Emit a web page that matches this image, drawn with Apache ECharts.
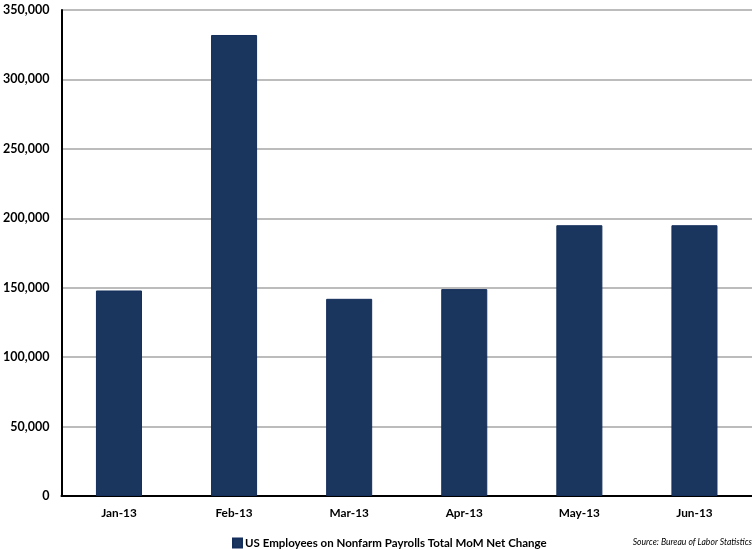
<!DOCTYPE html>
<html><head><meta charset="utf-8">
<script src="https://cdn.jsdelivr.net/npm/echarts@6/dist/echarts.min.js"></script>
<style>html,body{margin:0;padding:0;background:#fff}#c{width:752px;height:549px}</style>
</head><body><div id="c"></div>
<script>
const categories = ['Jan-13','Feb-13','Mar-13','Apr-13','May-13','Jun-13'];
const payrollChange = [148000, 332000, 142000, 149000, 195000, 195000];
const seriesName = 'US Employees on Nonfarm Payrolls Total MoM Net Change';
const sourceText = 'Source: Bureau of Labor Statistics';
const yMin = 0, yMax = 350000, yStep = 50000;

const FONT = 'Lato';
const chart = echarts.init(document.getElementById('c'), null, {renderer:'canvas'});
chart.setOption({
  animation:false,
  textStyle:{fontFamily:FONT},
  grid:{left:61, top:10, width:696, height:486, containLabel:false},
  legend:{
    data:[seriesName], left:227, top:532, itemWidth:9, itemHeight:9, itemGap:4,
    icon:'rect',
    textStyle:{fontFamily:FONT, fontWeight:'bold', fontSize:11.5, color:'#000', padding:[0,0,0,-2]}
  },
  graphic:[{
    type:'text', right:0, top:538,
    style:{text:sourceText, font:'italic 8.6px '+FONT, fill:'#000'}
  }],
  xAxis:{
    type:'category', data:categories,
    axisLine:{lineStyle:{color:'#000', width:2}},
    axisTick:{show:false},
    axisLabel:{fontFamily:FONT, fontWeight:'bold', fontSize:11.8, color:'#000', margin:11}
  },
  yAxis:{
    type:'value', min:yMin, max:yMax, interval:yStep,
    axisLine:{show:true, lineStyle:{color:'#000', width:2}},
    axisTick:{show:false},
    splitLine:{lineStyle:{color:'#a6a6a6', width:1.5}},
    axisLabel:{fontFamily:FONT, fontWeight:'bold', fontSize:12.5, color:'#000', margin:12,
      formatter:v=>v.toLocaleString('en-US')}
  },
  series:[{
    name:seriesName, type:'bar', data:payrollChange, barWidth:'40%',
    itemStyle:{color:'#1a365e', borderColor:'#142f5c', borderWidth:1}
  }]
});
</script></body></html>
